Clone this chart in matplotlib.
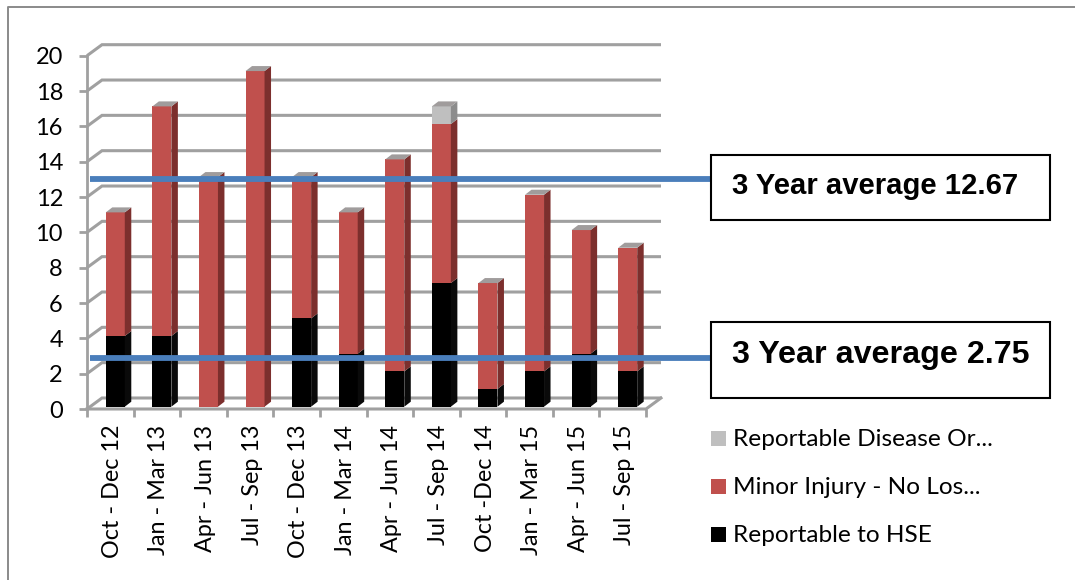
import matplotlib
matplotlib.use('Agg')
import numpy as np
import matplotlib.pyplot as plt
from matplotlib.lines import Line2D
from matplotlib.patches import Rectangle

W, H = 1075, 580

categories = ['Oct - Dec 12', 'Jan - Mar 13', 'Apr - Jun 13', 'Jul - Sep 13',
              'Oct - Dec 13', 'Jan - Mar 14', 'Apr - Jun 14', 'Jul - Sep 14',
              'Oct -Dec 14', 'Jan - Mar 15', 'Apr - Jun 15', 'Jul - Sep 15']
hse = [4, 4, 0, 0, 5, 3, 2, 7, 1, 2, 3, 2]
minor = [7, 13, 13, 19, 8, 8, 12, 9, 6, 10, 7, 7]
disease = [0, 0, 0, 0, 0, 0, 0, 1, 0, 0, 0, 0]
y_ticks = list(range(0, 21, 2))
legend_names = ['Reportable Disease Or...', 'Minor Injury - No Los...', 'Reportable to HSE']
avg_labels = ['3 Year average 12.67', '3 Year average 2.75']

RED, RED_SIDE = '#c0504d', '#7c2f2d'
GREY, GREY_SIDE = '#bfbfbf', '#8c8c8c'
TOP = '#a09c9c'
LINE = '#a0a0a0'
BLUE = '#4a7ebb'


def px_x(x):
    return x / W


def px_y(y):
    return 1 - y / H


fig = plt.figure(figsize=(W / 100, H / 100), dpi=100)
plt.rcParams['font.family'] = ['Lato', 'DejaVu Sans']

# outer frame of the pasted chart
fig.add_artist(Line2D([px_x(8), px_x(8), px_x(1075)], [px_y(580), px_y(6.5), px_y(6.5)],
                      color='#8a8a8a', lw=1.4))

# front plane of the fake 3D chart
ax = fig.add_axes([px_x(87), px_y(409), (646 - 87) / W, (409 - 55.7) / H])
ax.set_xlim(-0.5, 11.5)
ax.set_ylim(0, 20)
ax.patch.set_alpha(0)
for s in ['top', 'right', 'bottom']:
    ax.spines[s].set_visible(False)
ax.spines['left'].set_color(LINE)
ax.spines['left'].set_linewidth(2)

# depth of the back wall and of a bar, in data units
dx, dy = 15 / 46.6, 11 / 17.66
bar_w = 19 / 46.6
bar_off = 5 / 46.6
bar_dx, bar_dy = 6.5 / 46.6, 5 / 17.66
lift = 0.13

# gridlines on the wall and the floor edges
for v in y_ticks:
    ax.plot([-0.5, -0.5 + dx, 11.5 + dx], [v, v + dy, v + dy], color=LINE, lw=2.2,
            clip_on=False, zorder=1, solid_capstyle='butt', solid_joinstyle='miter')
ax.plot([-0.5, 11.5, 11.5 + dx], [0, 0, dy], color=LINE, lw=2.2, clip_on=False, zorder=1)

x = np.arange(len(categories))
hse_a = np.array(hse, dtype=float)
minor_a = np.array(minor, dtype=float)
disease_a = np.array(disease, dtype=float)
bottoms = [np.zeros(len(x)), hse_a, hse_a + minor_a]
series = [(hse_a, 'black', '#0a0a0a'), (minor_a, RED, RED_SIDE), (disease_a, GREY, GREY_SIDE)]

for (vals, front, side), base in zip(series, bottoms):
    ax.bar(x + bar_off, vals, bar_w, bottom=base + lift, color=front, lw=0, zorder=3, clip_on=False)
    for xi, v, b in zip(x, vals, base):
        if v == 0:
            continue
        x1 = xi + bar_off + bar_w / 2
        ax.fill([x1, x1 + bar_dx, x1 + bar_dx, x1],
                [b + lift, b + lift + bar_dy, b + v + lift + bar_dy, b + v + lift],
                color=side, lw=0, zorder=3, clip_on=False)

# lid on each stack
totals = hse_a + minor_a + disease_a
for xi, t in zip(x, totals):
    x0 = xi + bar_off - bar_w / 2
    ax.fill([x0, x0 + bar_dx, x0 + bar_w + bar_dx, x0 + bar_w],
            [t + lift, t + lift + bar_dy, t + lift + bar_dy, t + lift],
            color=TOP, lw=0, zorder=3, clip_on=False)

ax.set_yticks(y_ticks)
ax.set_yticklabels([str(v) for v in y_ticks])
ax.tick_params(axis='y', length=5.8, width=2, color=LINE, labelsize=17, pad=11.5, labelcolor='black')
ax.set_xticks(np.arange(-0.5, 12, 1))
ax.set_xticklabels([])
ax.tick_params(axis='x', length=5.8, width=2, color=LINE)
for xi, name in zip(x, categories):
    ax.annotate(name, (xi, 0), xytext=(1.5, -11.5), textcoords='offset points', rotation=90,
                ha='center', va='top', fontsize=16.8, color='black', annotation_clip=False)

# the two average lines and their boxes sit on top of the chart
for y_px, top, bottom, label, text_y, size in [(179, 154.5, 220, avg_labels[0], 186, 21.1),
                                               (358, 322, 397.5, avg_labels[1], 354.5, 23.2)]:
    fig.add_artist(Line2D([px_x(90), px_x(711)], [px_y(y_px), px_y(y_px)], color=BLUE, lw=4.2,
                          solid_capstyle='butt', zorder=5))
    fig.add_artist(Rectangle((px_x(711), px_y(bottom)), (1050 - 711) / W, (bottom - top) / H,
                             transform=fig.transFigure, fc='white', ec='black', lw=1.5, zorder=6))
    fig.text(px_x(732), px_y(text_y), label, family='Liberation Sans', weight='bold', fontsize=size,
             va='center', ha='left', color='black', zorder=7)

# legend built by hand so the entries land where they do in the original
for y_px, color, name in zip([438, 486, 534], [GREY, RED, 'black'], legend_names):
    fig.add_artist(Rectangle((px_x(711), px_y(y_px + 7.5)), 15 / W, 15 / H,
                             transform=fig.transFigure, fc=color, ec='none'))
    fig.text(px_x(733), px_y(y_px + 1.5), name, fontsize=17.6, va='center', ha='left', color='black')

fig.savefig('out.png', dpi=100)
